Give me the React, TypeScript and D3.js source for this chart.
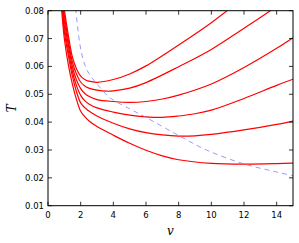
import * as d3 from 'd3';

// curve samples: [v, T]
const curve1: [number, number][] = [[0.95, 0.083], [1.0, 0.0805], [1.25, 0.071], [1.5, 0.0632], [1.75, 0.0591], [2, 0.0565], [2.25, 0.0553], [2.5, 0.0547], [3, 0.0543], [4, 0.0553], [5, 0.0573], [6, 0.0602], [8, 0.0677], [10, 0.0757], [11.5, 0.0825]];
const curve2: [number, number][] = [[0.93, 0.083], [1.0, 0.0785], [1.25, 0.0692], [1.5, 0.0614], [1.75, 0.0572], [2, 0.0544], [2.25, 0.053], [2.5, 0.0522], [3, 0.0515], [3.6, 0.0511], [4, 0.0512], [5, 0.0522], [6, 0.0542], [8, 0.0599], [10, 0.0661], [12, 0.0737], [14, 0.0815]];
const curve3: [number, number][] = [[0.9, 0.083], [1.0, 0.0765], [1.25, 0.0675], [1.5, 0.0597], [1.75, 0.055], [2, 0.052], [2.25, 0.0503], [2.5, 0.0493], [3, 0.0481], [4, 0.0474], [5, 0.0471], [6, 0.0474], [7, 0.0483], [8, 0.0497], [10, 0.0537], [12, 0.0596], [14, 0.0665], [15, 0.0703]];
const curve4: [number, number][] = [[0.87, 0.083], [1.0, 0.0745], [1.25, 0.0655], [1.5, 0.058], [1.75, 0.053], [2, 0.0496], [2.25, 0.0477], [2.5, 0.0465], [3, 0.0451], [4, 0.0436], [5, 0.0425], [6, 0.0419], [7, 0.0417], [8, 0.0422], [9, 0.043], [10, 0.0443], [12, 0.0485], [14, 0.0532], [15, 0.0554]];
const curve5: [number, number][] = [[0.84, 0.083], [1.0, 0.0725], [1.25, 0.0638], [1.5, 0.0563], [1.75, 0.0508], [2, 0.0469], [2.25, 0.0452], [2.5, 0.044], [3, 0.0422], [4, 0.0396], [5, 0.0376], [6, 0.0362], [7, 0.0354], [8, 0.035], [9, 0.0351], [10, 0.0356], [12, 0.0372], [14, 0.0392], [15, 0.0404]];
const curve6: [number, number][] = [[0.8, 0.083], [1.0, 0.07], [1.25, 0.0605], [1.5, 0.0535], [1.75, 0.048], [2, 0.0439], [2.25, 0.042], [2.5, 0.0405], [3, 0.0384], [4, 0.0353], [5, 0.0324], [6, 0.0299], [7, 0.0279], [8, 0.0265], [10, 0.0252], [12, 0.0249], [14, 0.0251], [15, 0.0253]];
const redCurves = [curve1, curve2, curve3, curve4, curve5, curve6];

const minima: [number, number][] = [[1.6, 0.084], [1.7, 0.08], [1.95, 0.068], [2.2, 0.0615], [2.5, 0.0575], [3, 0.0537], [3.8, 0.0487], [5, 0.0448], [6, 0.0417], [8, 0.0352], [9.7, 0.03], [12, 0.025], [14, 0.0221], [15, 0.0208]];

const xTicks = [0, 2, 4, 6, 8, 10, 12, 14];
const yTicks = [0.01, 0.02, 0.03, 0.04, 0.05, 0.06, 0.07, 0.08];

const width = 299;
const height = 243;
const margin = { top: 10.7, right: 6, bottom: 37.3, left: 48 };

export default function App() {
    const x = d3.scaleLinear().domain([0, 15]).range([margin.left, width - margin.right]);
    const y = d3.scaleLinear().domain([0.01, 0.08]).range([height - margin.bottom, margin.top]);

    const line = d3.line<[number, number]>()
        .x(d => x(d[0]))
        .y(d => y(d[1]))
        .curve(d3.curveCatmullRom.alpha(0.5));

    const x0 = x(0), x1 = x(15), y0 = y(0.01), y1 = y(0.08);
    const tickLen = 4;

    return (
        <svg width={width} height={height} style={{ position: 'absolute', left: 0, top: 0, background: 'white' }}>
            <defs>
                <clipPath id="plot-area">
                    <rect x={x0} y={y1} width={x1 - x0} height={y0 - y1} />
                </clipPath>
            </defs>
            <g clipPath="url(#plot-area)">
                {redCurves.map((c, i) => (
                    <path key={i} d={line(c) ?? ''} fill="none" stroke="#ff0000" strokeWidth={1.2} />
                ))}
                <path d={line(minima) ?? ''} fill="none" stroke="#8080ff" strokeWidth={0.8} strokeDasharray="5,4" />
            </g>

            {/* frame */}
            <rect x={x0} y={y1} width={x1 - x0} height={y0 - y1} fill="none" stroke="black" strokeWidth={1} />

            {/* x ticks, inward on bottom and top */}
            {xTicks.map(t => (
                <g key={'x' + t}>
                    <line x1={x(t)} x2={x(t)} y1={y0} y2={y0 - tickLen} stroke="black" strokeWidth={0.8} />
                    <line x1={x(t)} x2={x(t)} y1={y1} y2={y1 + tickLen} stroke="black" strokeWidth={0.8} />
                    <text x={x(t)} y={y0 + 12} textAnchor="middle" fontFamily="DejaVu Sans" fontSize={8.5}>{t}</text>
                </g>
            ))}

            {/* y ticks, inward on left and right */}
            {yTicks.map(t => (
                <g key={'y' + t}>
                    <line x1={x0} x2={x0 + tickLen} y1={y(t)} y2={y(t)} stroke="black" strokeWidth={0.8} />
                    <line x1={x1} x2={x1 - tickLen} y1={y(t)} y2={y(t)} stroke="black" strokeWidth={0.8} />
                    <text x={x0 - 4} y={y(t) + 3} textAnchor="end" fontFamily="DejaVu Sans" fontSize={8.5}>{t.toFixed(2)}</text>
                </g>
            ))}

            <text x={(x0 + x1) / 2} y={y0 + 29} textAnchor="middle" fontFamily="DejaVu Serif" fontStyle="italic" fontSize={12}>v</text>
            <text transform={`translate(16,${(y0 + y1) / 2}) rotate(-90)`} textAnchor="middle" fontFamily="DejaVu Serif" fontStyle="italic" fontSize={12}>T</text>
        </svg>
    );
}
